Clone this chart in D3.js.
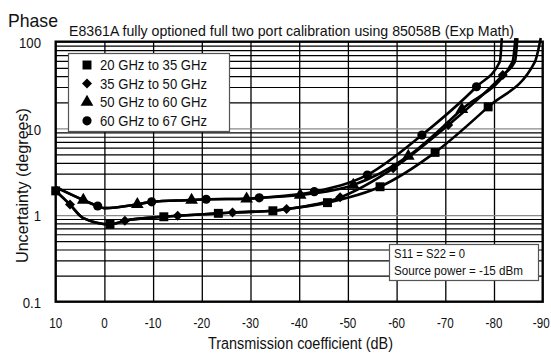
<!DOCTYPE html>
<html>
<head>
<meta charset="utf-8">
<script src="https://cdn.jsdelivr.net/npm/d3@7"></script>
<style>
  html, body { margin: 0; padding: 0; background: #fff; }
  svg { display: block; }
  text { font-family: "Liberation Sans", Arial, sans-serif; fill: #111; }
</style>
</head>
<body>
<svg id="chart" width="551" height="353"></svg>
<script>
// Axis ticks
const xTicks = [10, 0, -10, -20, -30, -40, -50, -60, -70, -80, -90];
const xTickLabels = ["10", "0", "-10", "-20", "-30", "-40", "-50", "-60", "-70", "-80", "-90"];
const yTicks = [0.1, 1, 10, 100];
const yTickLabels = ["0.1", "1", "10", "100"];

// 20 GHz to 35 GHz (squares)
const atten20 = [10, 7.06, 4.33, -1.15, -4.2, -12.2, -15.05, -23.4, -26.3, -34.6, -37.4, -45.8, -56.6, -67.9, -78.8, -88.4, -89.6];
const unc20   = [1.9, 1.32, 0.92, 0.78, 0.86, 0.955, 0.98, 1.046, 1.07, 1.12, 1.17, 1.39, 2.12, 5.28, 17.7, 58.6, 110];
const marks20 = [10, -1.15, -12.2, -23.4, -34.6, -45.8, -56.6, -67.9, -78.8];

// 35 GHz to 50 GHz (diamonds)
const atten35 = [10, 7.06, 4.33, -1.15, -4.2, -12.2, -15.05, -23.4, -26.3, -34.6, -37.4, -48.4, -59.3, -70.6, -81.8, -84.3, -84.8];
const unc35   = [1.9, 1.32, 0.92, 0.78, 0.86, 0.955, 0.98, 1.046, 1.07, 1.12, 1.17, 1.60, 3.46, 10.9, 41.2, 58.6, 110];
const marks35 = [7.06, -4.2, -15.05, -26.3, -37.4, -48.4, -59.3, -70.6, -81.8];

// 50 GHz to 60 GHz (triangles)
const atten50 = [10, 4.33, 1.38, 0, -6.76, -9.7, -17.9, -20.9, -29.2, -31.8, -40.2, -51.1, -62.4, -73.4, -83.8, -84.4];
const unc50   = [2.1, 1.49, 1.27, 1.2, 1.33, 1.42, 1.49, 1.52, 1.54, 1.58, 1.70, 2.22, 4.79, 16.6, 58.6, 110];
const marks50 = [4.33, -6.76, -17.9, -29.2, -40.2, -51.1, -62.4, -73.4];

// 60 GHz to 67 GHz (circles)
const atten60 = [10, 4.33, 1.38, 0, -6.76, -9.7, -17.9, -20.9, -29.2, -31.8, -43.1, -54.0, -65.2, -76.4, -81.2, -81.6];
const unc60   = [2.1, 1.49, 1.27, 1.2, 1.33, 1.42, 1.49, 1.52, 1.54, 1.58, 1.86, 2.9, 8.37, 30.2, 58.6, 110];
const marks60 = [1.38, -9.7, -20.9, -31.8, -43.1, -54.0, -65.2, -76.4];

const legendLabels = ["20 GHz to 35 GHz", "35 GHz to 50 GHz", "50 GHz to 60 GHz", "60 GHz to 67 GHz"];
const noteLines = ["S11 = S22 = 0", "Source power = -15 dBm"];

const series = [
  { atten: atten20, unc: unc20, marks: marks20, shape: "square" },
  { atten: atten35, unc: unc35, marks: marks35, shape: "diamond" },
  { atten: atten50, unc: unc50, marks: marks50, shape: "triangle" },
  { atten: atten60, unc: unc60, marks: marks60, shape: "circle" }
];

const svg = d3.select("#chart");
const L = 55.7, R = 542.7, T = 41.7, B = 301.7;

const x = d3.scaleLinear().domain([10, -90]).range([L, R]);
const y = d3.scaleLog().domain([0.1, 100]).range([B, T]);

// Grid
const minorY = [];
[0.1, 1, 10].forEach(d => { for (let k = 2; k <= 9; k++) minorY.push(d * k); });

const grid = svg.append("g");
grid.append("g").attr("transform", `translate(0,${B})`)
  .call(d3.axisBottom(x).tickValues(xTicks.slice(1, -1)).tickSize(-(B - T)).tickFormat(""))
  .call(g => g.select(".domain").remove())
  .call(g => g.selectAll("line").attr("stroke", "#000").attr("stroke-width", 1.3));
grid.append("g").attr("transform", `translate(${L},0)`)
  .call(d3.axisLeft(y).tickValues(minorY).tickSize(-(R - L)).tickFormat(""))
  .call(g => g.select(".domain").remove())
  .call(g => g.selectAll("line").attr("stroke", "#000").attr("stroke-width", 1.2));
grid.append("g").attr("transform", `translate(${L},0)`)
  .call(d3.axisLeft(y).tickValues([1, 10]).tickSize(-(R - L)).tickFormat(""))
  .call(g => g.select(".domain").remove())
  .call(g => g.selectAll("line").attr("stroke", "#8a8a8a").attr("stroke-width", 1.2));

// Frame
svg.append("rect").attr("x", L).attr("y", T).attr("width", R - L).attr("height", B - T)
  .attr("fill", "none").attr("stroke", "#000").attr("stroke-width", 2.4);

// Tick labels (condensed by a horizontal scale)
svg.append("g").selectAll("text").data(xTicks).join("text")
  .attr("transform", d => `translate(${x(d) - (d === -90 ? 1.5 : 0)},328) scale(0.75,1)`)
  .attr("text-anchor", "middle").attr("font-size", 15.5)
  .text((d, i) => xTickLabels[i]);
svg.append("g").selectAll("text").data(yTicks).join("text")
  .attr("transform", d => `translate(41,${y(d) + 6.3}) scale(0.85,1)`)
  .attr("text-anchor", "end").attr("font-size", 15.5)
  .text((d, i) => yTickLabels[i]);

// Titles
svg.append("text").attr("x", 8).attr("y", 27).attr("font-size", 18.5)
  .attr("textLength", 50).attr("lengthAdjust", "spacingAndGlyphs").text("Phase");
svg.append("text").attr("x", 69).attr("y", 36).attr("font-size", 15)
  .attr("textLength", 445).attr("lengthAdjust", "spacingAndGlyphs")
  .text("E8361A fully optioned full two port calibration using 85058B (Exp Math)");
svg.append("text").attr("x", 300.5).attr("y", 349).attr("text-anchor", "middle").attr("font-size", 16)
  .attr("textLength", 185).attr("lengthAdjust", "spacingAndGlyphs")
  .text("Transmission coefficient (dB)");
svg.append("text").attr("transform", "translate(28,185.5) rotate(-90)").attr("text-anchor", "middle")
  .attr("font-size", 17).attr("textLength", 155).attr("lengthAdjust", "spacingAndGlyphs")
  .text("Uncertainty (degrees)");

// Curves
const line = d3.line().x(d => x(d[0])).y(d => y(d[1])).curve(d3.curveMonotoneX);
const symbolFor = {
  square:   d3.symbol().type(d3.symbolSquare).size(80),
  diamond:  d3.symbol().type(d3.symbolSquare).size(50),
  triangle: d3.symbol().type(d3.symbolTriangle).size(70),
  circle:   d3.symbol().type(d3.symbolCircle).size(66)
};
const rot = s => s === "diamond" ? " rotate(45)" : "";

series.forEach(s => {
  const pts = s.atten.map((a, i) => [a, s.unc[i]]);
  svg.append("path").datum(pts).attr("d", line)
    .attr("fill", "none").attr("stroke", "#000").attr("stroke-width", 2.6).attr("stroke-linejoin", "round");
});
series.forEach(s => {
  const pts = s.marks.map(a => [a, s.unc[s.atten.indexOf(a)]]);
  svg.append("g").selectAll("path").data(pts).join("path")
    .attr("d", symbolFor[s.shape]())
    .attr("transform", d => `translate(${x(d[0])},${y(d[1])})${rot(s.shape)}`)
    .attr("fill", "#000");
});

// Legend
const lg = svg.append("g");
lg.append("rect").attr("x", 68.5).attr("y", 53.5).attr("width", 161).attr("height", 78)
  .attr("fill", "#fff").attr("stroke", "#555").attr("stroke-width", 1.2);
legendLabels.forEach((t, i) => {
  const cy = 65 + i * 18.6;
  lg.append("path").attr("d", symbolFor[series[i].shape]())
    .attr("transform", `translate(87,${cy})${rot(series[i].shape)}`).attr("fill", "#000");
  lg.append("text").attr("x", 100).attr("y", cy + 5).attr("font-size", 14.5)
    .attr("textLength", 107).attr("lengthAdjust", "spacingAndGlyphs").text(t);
});

// Note box
const nb = svg.append("g");
nb.append("rect").attr("x", 389.5).attr("y", 244.5).attr("width", 149).attr("height", 36)
  .attr("fill", "#fff").attr("stroke", "#555").attr("stroke-width", 1.2);
nb.append("text").attr("x", 394).attr("y", 258.3).attr("font-size", 12)
  .attr("textLength", 71).attr("lengthAdjust", "spacingAndGlyphs").text(noteLines[0]);
nb.append("text").attr("x", 394).attr("y", 275).attr("font-size", 12)
  .attr("textLength", 129).attr("lengthAdjust", "spacingAndGlyphs").text(noteLines[1]);
</script>
</body>
</html>
